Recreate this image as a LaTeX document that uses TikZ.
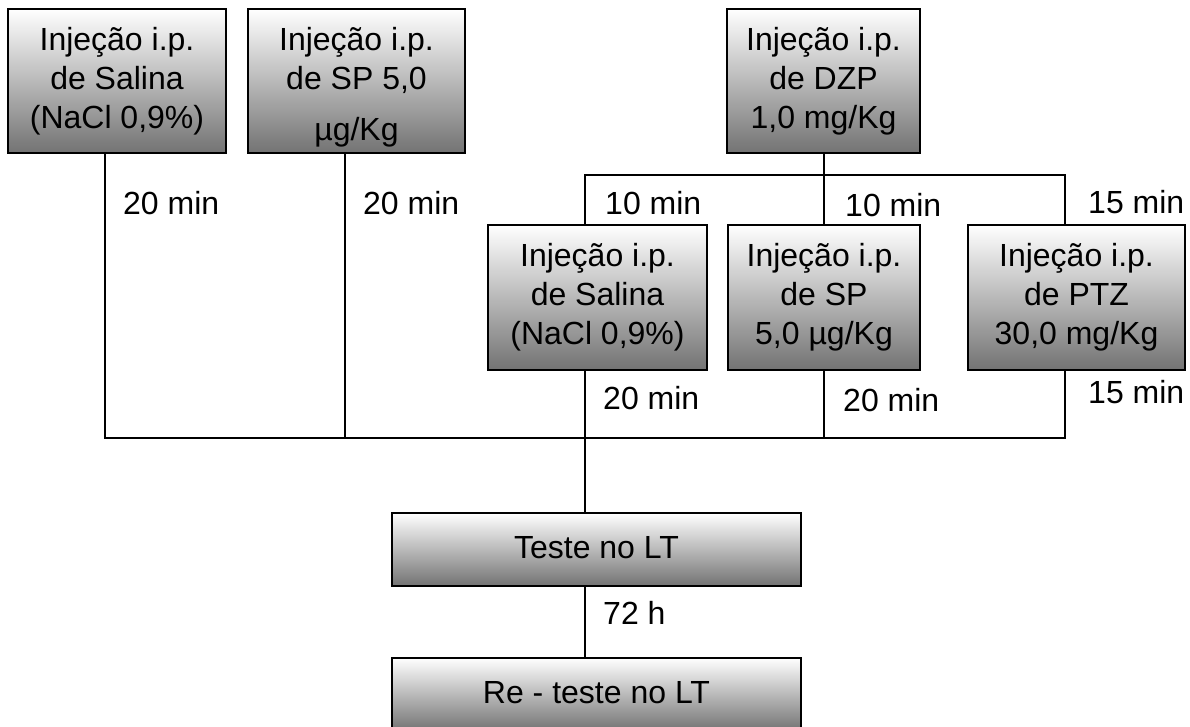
\documentclass[tikz,border=0pt]{standalone}
\usepackage{fontspec}
\setmainfont{Liberation Sans}
\definecolor{boxgray}{gray}{0.45}
\begin{document}
\begin{tikzpicture}[x=1pt,y=-1pt,
  txt/.style={font=\fontsize{32}{39}\selectfont},
  box/.style={txt, draw=black, line width=1.6pt, rectangle, top color=white,
    bottom color=boxgray, align=center, inner sep=0pt},
  tallbox/.style={box, minimum height=144pt},
  flatbox/.style={box, minimum height=73pt, minimum width=409pt},
  lbl/.style={txt, anchor=west, inner sep=0pt},
  link/.style={line width=1.3pt}]
\useasboundingbox (0,0) rectangle (1190,727);
\clip (0,0) rectangle (1190,727);

% first injection
\node[tallbox, minimum width=218pt] (sal1) at (117,81) {Injeção i.p.\\de Salina\\(NaCl 0,9\%)};
\node[tallbox, minimum width=217pt] (sp1) at (356.5,81) {\rule{0pt}{35pt}Injeção i.p.\\de SP 5,0\\[12pt]µg/Kg};
\node[tallbox, minimum width=193pt] (dzp) at (823.5,81) {Injeção i.p.\\de DZP\\1,0 mg/Kg};

% second injection after DZP
\node[tallbox, minimum width=219pt, minimum height=145pt] (sal2) at (597.5,297.5) {Injeção i.p.\\de Salina\\(NaCl 0,9\%)};
\node[tallbox, minimum width=192pt, minimum height=145pt] (sp2) at (824,297.5) {Injeção i.p.\\de SP\\5,0 µg/Kg};
\node[tallbox, minimum width=217pt, minimum height=145pt] (ptz) at (1076.5,297.5) {Injeção i.p.\\de PTZ\\30,0 mg/Kg};

% tests
\node[flatbox] (lt) at (596.5,549.5) {\raisebox{5pt}{Teste no LT}};
\node[flatbox] (relt) at (596.5,694.5) {\raisebox{5pt}{Re - teste no LT}};

% junction points
\coordinate (xa) at (105,438);
\coordinate (xb) at (345,438);
\coordinate (xc) at (585,438);
\coordinate (xd) at (824,438);
\coordinate (xe) at (1065,438);
\coordinate (split) at (824,175);

% connectors
\draw[link] (xa |- sal1.south) -- (xa) -- (xe) -- (xe |- ptz.south);
\draw[link] (xb |- sp1.south) -- (xb);
\draw[link] (xd |- sp2.south) -- (xd);
\draw[link] (xc |- sal2.south) -- (xc |- lt.north);
\draw[link] (xc |- lt.south) -- (xc |- relt.north);
\draw[link] (split |- dzp.south) -- (split);
\draw[link] (xc |- sal2.north) |- (split) -| (xe |- ptz.north);
\draw[link] (split) -- (xd |- sp2.north);

% intervals
\node[lbl] (t1) at (123,203) {20 min};
\node[lbl] (t2) at (363,203) {20 min};
\node[lbl] (t3) at (605,203) {10 min};
\node[lbl] (t4) at (845,205) {10 min};
\node[lbl] (t5) at (1088,202) {15 min};
\node[lbl] (t6) at (603,398) {20 min};
\node[lbl] (t7) at (843,400) {20 min};
\node[lbl] (t8) at (1088,392) {15 min};
\node[lbl] (t9) at (603,613) {72 h};
\end{tikzpicture}
\end{document}
